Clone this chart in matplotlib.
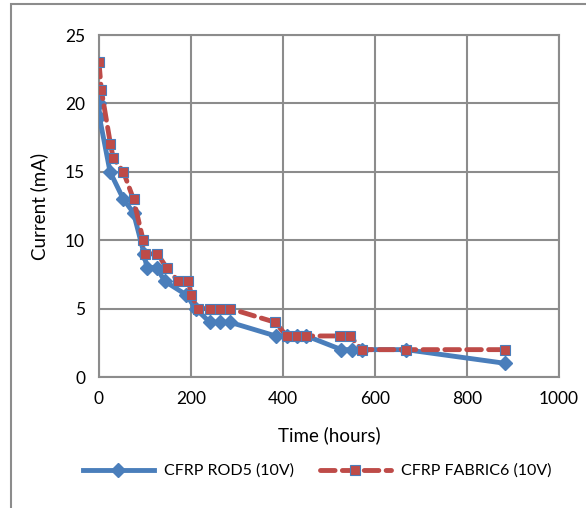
import matplotlib
matplotlib.use('Agg')
import matplotlib.pyplot as plt
from matplotlib.patches import Rectangle

# CFRP ROD5 (10V)
rod_hours = [0, 1, 24, 53, 75, 98, 104, 125, 143, 190, 210, 241, 263, 285,
             384, 408, 430, 451, 527, 549, 571, 667, 883]
rod_current = [20, 19, 15, 13, 12, 9, 8, 8, 7, 6, 5, 4, 4, 4,
               3, 3, 3, 3, 2, 2, 2, 2, 1]

# CFRP FABRIC6 (10V)
fab_hours = [0, 5, 25, 31, 53, 75, 96, 100, 127, 147, 172, 194, 201, 215,
             241, 263, 285, 383, 408, 430, 451, 524, 546, 571, 667, 883]
fab_current = [23, 21, 17, 16, 15, 13, 10, 9, 9, 8, 7, 7, 6, 5,
               5, 5, 5, 4, 3, 3, 3, 3, 3, 2, 2, 2]

plt.rcParams['font.family'] = ['Lato', 'DejaVu Sans']
plt.rcParams['font.size'] = 10

fig = plt.figure(figsize=(5.86, 5.08), dpi=100)
ax = fig.add_axes([99 / 586, 1 - 377 / 508, 460 / 586, 342 / 508])

# outer chart border (Excel style, cropped at right/bottom)
fig.patches.append(Rectangle((11 / 586, -0.1), 1.2, 1 - 4 / 508 + 0.1,
                             transform=fig.transFigure, fill=False,
                             edgecolor='#8c8c8c', linewidth=1.5))

ax.plot(rod_hours, rod_current, color='#4a7ebb', linewidth=3.5,
        marker='D', markersize=7, markeredgecolor='#4a7ebb',
        label='CFRP ROD5 (10V)', zorder=3)
ax.plot(fab_hours, fab_current, color='#be4b48', linewidth=3.5,
        linestyle=(0, (3, 1.5)), dash_capstyle='round',
        marker='s', markersize=7.5, markerfacecolor='#be4b48',
        markeredgecolor='#4a7ebb', markeredgewidth=0.8,
        label='CFRP FABRIC6 (10V)', zorder=4)

ax.set_xlim(0, 1000)
ax.set_ylim(0, 25)
ax.set_xticks(range(0, 1001, 200))
ax.set_yticks(range(0, 26, 5))
ax.grid(True, color='#8c8c8c', linewidth=1.5)
ax.set_axisbelow(True)
for s in ax.spines.values():
    s.set_color('#8c8c8c')
    s.set_linewidth(1.5)
ax.tick_params(length=0, pad=10, labelsize=12.5)

ax.set_xlabel('Time (hours)', fontsize=13.5, labelpad=14)
ax.set_ylabel('Current (mA)', fontsize=13.5, labelpad=12)

fig.legend(loc='center', bbox_to_anchor=(317 / 586, 1 - 471 / 508), ncol=2,
           frameon=False, fontsize=11.5, handlelength=4.5, columnspacing=1.6,
           handletextpad=0.6)

fig.savefig('out.png', dpi=100)
